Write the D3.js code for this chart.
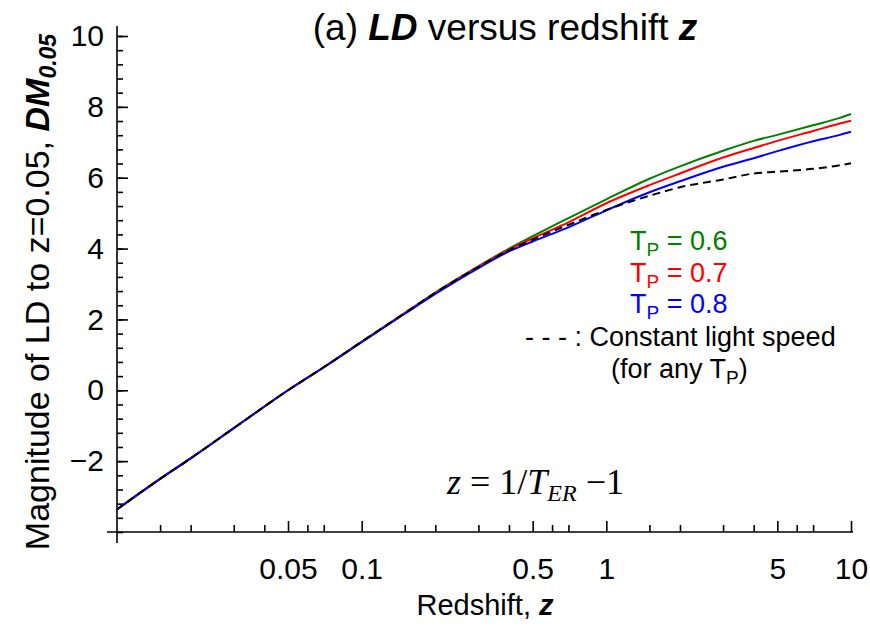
<!DOCTYPE html>
<html>
<head>
<meta charset="utf-8">
<script src="https://cdn.jsdelivr.net/npm/d3@7"></script>
<style>
    body { margin: 0; background: #fff; }
    text { font-family: "Liberation Sans", Arial, sans-serif; }
</style>
</head>
<body>
<svg id="chart" width="870" height="628"></svg>
<script>
// redshift sample points (shared by every curve)
const redshift = [0.01, 0.015, 0.02, 0.03, 0.05, 0.07, 0.1, 0.15, 0.2, 0.3, 0.4, 0.5, 0.7, 1, 1.5, 2, 3, 4, 5, 7, 9, 10];

// DM_0.05
const dmTp06 = [-3.36, -2.50, -1.92, -1.07, 0, 0.65, 1.37, 2.18, 2.76, 3.50, 4.00, 4.35, 4.86, 5.39, 5.97, 6.32, 6.76, 7.04, 7.21, 7.48, 7.69, 7.80];
const dmTp07 = [-3.36, -2.50, -1.92, -1.07, 0, 0.65, 1.37, 2.18, 2.75, 3.49, 3.97, 4.29, 4.74, 5.28, 5.79, 6.12, 6.57, 6.84, 7.04, 7.32, 7.53, 7.61];
const dmTp08 = [-3.36, -2.50, -1.92, -1.07, 0, 0.65, 1.36, 2.16, 2.72, 3.45, 3.92, 4.20, 4.60, 5.08, 5.59, 5.90, 6.31, 6.55, 6.75, 7.03, 7.21, 7.30];
const dmConst = [-3.36, -2.50, -1.92, -1.07, 0, 0.65, 1.37, 2.18, 2.75, 3.48, 3.95, 4.25, 4.67, 5.09, 5.49, 5.73, 5.95, 6.12, 6.17, 6.25, 6.35, 6.41];

// tick values
const xMajor = [0.05, 0.1, 0.5, 1, 5, 10];
const xMinor = [0.015, 0.02, 0.03, 0.04, 0.06, 0.07, 0.15, 0.2, 0.3, 0.4, 0.6, 0.7, 1.5, 2, 3, 4, 6, 7];
const yMajor = [-2, 0, 2, 4, 6, 8, 10];
const yMinor = d3.range(-4, 10.01, 0.4).map(d => +d.toFixed(1));

const svg = d3.select("#chart");

const x = d3.scaleLog().domain([0.01, 10]).range([117, 851]);
const y = d3.scaleLinear().domain([-4, 10]).range([532, 36]);

// axis lines (they stick out a bit past the origin)
svg.append("line")
    .attr("x1", 107).attr("x2", 853)
    .attr("y1", y(-4)).attr("y2", y(-4))
    .attr("stroke", "#000").attr("stroke-width", 1.6);
svg.append("line")
    .attr("x1", x(0.01)).attr("x2", x(0.01))
    .attr("y1", 26).attr("y2", 543)
    .attr("stroke", "#000").attr("stroke-width", 1.6);

//x axis, ticks point up into the plot
svg.append("g")
    .attr("transform", "translate(0," + y(-4) + ")")
    .call(d3.axisBottom(x).tickValues(xMajor).tickSizeInner(-11).tickSizeOuter(0).tickPadding(26)
        .tickFormat(d => String(d)));
svg.append("g")
    .attr("transform", "translate(0," + y(-4) + ")")
    .call(d3.axisBottom(x).tickValues(xMinor).tickSizeInner(-7).tickSizeOuter(0).tickFormat(""));

//y axis, ticks point right
svg.append("g")
    .attr("transform", "translate(" + x(0.01) + ",0)")
    .call(d3.axisLeft(y).tickValues(yMajor).tickSizeInner(-11).tickSizeOuter(0).tickPadding(13));
svg.append("g")
    .attr("transform", "translate(" + x(0.01) + ",0)")
    .call(d3.axisLeft(y).tickValues(yMinor).tickSizeInner(-6).tickSizeOuter(0).tickFormat(""));

svg.selectAll(".domain").remove();
svg.selectAll(".tick line").attr("stroke", "#000").attr("stroke-width", 1.6);
svg.selectAll(".tick text")
    .attr("font-family", "Liberation Sans, Arial, sans-serif")
    .attr("font-size", 30)
    .attr("fill", "#000");

// curves
const line = d3.line()
    .x((d, i) => x(redshift[i]))
    .y(d => y(d))
    .curve(d3.curveMonotoneX);

const series = [
    { values: dmTp06, color: "#008000", dash: null, width: 2 },
    { values: dmTp07, color: "#ff0000", dash: null, width: 2 },
    { values: dmTp08, color: "#0000ff", dash: null, width: 2 },
    { values: dmConst, color: "#000000", dash: "8,5", width: 2 }
];

svg.selectAll(".curve")
    .data(series)
    .enter().append("path")
    .attr("class", "curve")
    .attr("d", d => line(d.values))
    .attr("fill", "none")
    .attr("stroke", d => d.color)
    .attr("stroke-width", d => d.width)
    .attr("stroke-dasharray", d => d.dash);

// title
const title = svg.append("text")
    .attr("x", 505).attr("y", 40)
    .attr("text-anchor", "middle")
    .attr("font-size", 37);
title.append("tspan").text("(a) ");
title.append("tspan").attr("font-weight", "bold").attr("font-style", "italic").text("LD");
title.append("tspan").text(" versus redshift ");
title.append("tspan").attr("font-weight", "bold").attr("font-style", "italic").text("z");

// x label
const xLabel = svg.append("text")
    .attr("x", 485).attr("y", 615)
    .attr("text-anchor", "middle")
    .attr("font-size", 29);
xLabel.append("tspan").text("Redshift, ");
xLabel.append("tspan").attr("font-weight", "bold").attr("font-style", "italic").text("z");

// y label
const yLabel = svg.append("text")
    .attr("transform", "translate(49,292) rotate(-90)")
    .attr("text-anchor", "middle")
    .attr("font-size", 34);
yLabel.append("tspan").text("Magnitude of LD to z=0.05, ");
yLabel.append("tspan").attr("font-weight", "bold").attr("font-style", "italic").text("DM");
yLabel.append("tspan").attr("font-weight", "bold").attr("font-style", "italic")
    .attr("font-size", 23).attr("dy", 7).text("0.05");

// legend
const legendTp = [0.6, 0.7, 0.8];
const legendColor = ["#008000", "#ff0000", "#0000ff"];

legendTp.forEach((tp, i) => {
    const t = svg.append("text")
        .attr("x", 630).attr("y", 250 + i * 31.5)
        .attr("font-size", 27)
        .attr("fill", legendColor[i]);
    t.append("tspan").text("T");
    t.append("tspan").attr("font-size", 19).attr("dy", 6).text("P");
    t.append("tspan").attr("dy", -6).text(" = " + tp);
});

svg.append("text")
    .attr("x", 525).attr("y", 346)
    .attr("font-size", 27)
    .text("- - - : Constant light speed");

const anyTp = svg.append("text")
    .attr("x", 611).attr("y", 378)
    .attr("font-size", 27);
anyTp.append("tspan").text("(for any T");
anyTp.append("tspan").attr("font-size", 19).attr("dy", 6).text("P");
anyTp.append("tspan").attr("dy", -6).text(")");

// formula
const formula = svg.append("text")
    .attr("x", 447).attr("y", 494)
    .attr("font-size", 36)
    .style("font-family", "Liberation Serif, Times New Roman, serif");
formula.append("tspan").attr("font-style", "italic").text("z");
formula.append("tspan").text(" = 1/");
formula.append("tspan").attr("font-style", "italic").text("T");
formula.append("tspan").attr("font-style", "italic").attr("font-size", 24).attr("dy", 7).text("ER");
formula.append("tspan").attr("dy", -7).text(" \u22121");
</script>
</body>
</html>
